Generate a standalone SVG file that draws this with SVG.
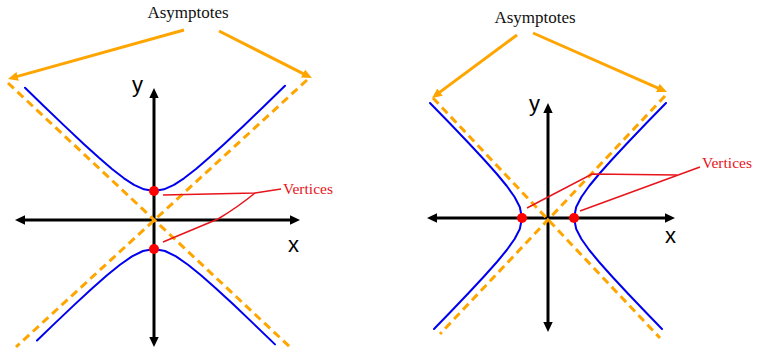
<svg xmlns="http://www.w3.org/2000/svg" width="758" height="350" viewBox="0 0 758 350">
  <defs>
    <style>
      .axis { stroke: #000; stroke-width: 3; fill: none; marker-start: url(#axhead); marker-end: url(#axhead); }
      .asym { stroke: #FFA500; stroke-width: 3; fill: none; stroke-dasharray: 8 5; }
      .curve { stroke: #0000EE; stroke-width: 2; fill: none; stroke-linejoin: round; stroke-linecap: round; }
      .pointer { stroke: #FFA500; stroke-width: 3; fill: none; marker-end: url(#orhead); }
      .lead { stroke: #E8141B; stroke-width: 1.5; fill: none; }
      .vertex { fill: #FF0000; }
      .lbl { font-family: "Liberation Serif", "Times New Roman", serif; font-size: 17px; fill: #111; }
      .vlbl { font-family: "Liberation Serif", "Times New Roman", serif; font-size: 15.5px; fill: #E8141B; }
      .axlbl { font-family: "Liberation Sans", Arial, sans-serif; font-size: 22px; fill: #000; }
    </style>
    <marker id="axhead" viewBox="0 0 10 10" refX="4" refY="5" markerWidth="10" markerHeight="10" markerUnits="userSpaceOnUse" orient="auto-start-reverse">
      <path d="M0,0.3 L10,5 L0,9.7 z" fill="#000"/>
    </marker>
    <marker id="orhead" viewBox="0 0 10 10" refX="4" refY="5" markerWidth="10" markerHeight="10" markerUnits="userSpaceOnUse" orient="auto">
      <path d="M0,0.5 L10,5 L0,9.5 z" fill="#FFA500"/>
    </marker>
  </defs>

  <g id="left-graph">
    <g id="left-axes">
      <line class="axis" x1="21" y1="220" x2="294" y2="220"/>
      <line class="axis" x1="154" y1="341" x2="154" y2="94"/>
      <text class="axlbl" x="288" y="252">x</text>
      <text class="axlbl" x="132" y="92">y</text>
    </g>
    <g id="left-asymptotes">
      <line class="asym" x1="8" y1="83" x2="291" y2="348"/>
      <line class="asym" x1="307" y1="80" x2="16" y2="347"/>
    </g>
    <g id="left-hyperbola">
      <polyline class="curve" points="25,87.8 44,106.2 64,125.4 84,144.2 99,157.8 112,169 124,178.3 134,184.8 144,189.3 154,191 164,189.3 174,184.8 184,178.3 196,169 209,157.8 224,144.2 244,125.4 264,106.2 285,85.8"/>
      <polyline class="curve" points="37,340.5 54,324.1 74,305.1 92,288.4 107,275.2 120,264.7 132,256.4 143,251 154,249 165,251 176,256.4 188,264.7 201,275.2 216,288.4 234,305.1 254,324.1 275,344.4"/>
    </g>
  </g>

  <g id="right-graph">
    <g id="right-axes">
      <line class="axis" x1="433" y1="218" x2="669" y2="218"/>
      <line class="axis" x1="548" y1="326" x2="548" y2="109"/>
      <text class="axlbl" x="665" y="243">x</text>
      <text class="axlbl" x="529" y="111">y</text>
    </g>
    <g id="right-asymptotes">
      <line class="asym" x1="433" y1="98" x2="660" y2="338"/>
      <line class="asym" x1="665" y1="96" x2="440" y2="334"/>
    </g>
    <g id="right-hyperbola">
      <polyline class="curve" points="430,103 449.5,123 468.6,143 484.4,160 496.9,174 506.8,186 514.6,197 519.8,207 522,218 519.8,229 514.6,239 506.8,250 496.9,262 484.4,276 468.6,293 449.5,313 434,329"/>
      <polyline class="curve" points="666,103 646.5,123 627.4,143 611.6,160 599.1,174 589.2,186 581.4,197 576.2,207 574,218 576.2,229 581.4,239 589.2,250 599.1,262 611.6,276 627.4,293 646.5,313 662,329"/>
    </g>
  </g>

  <g id="connectors">
    <line class="pointer" x1="184" y1="30" x2="13.8" y2="77.4"/>
    <line class="pointer" x1="219" y1="31" x2="306.6" y2="75.3"/>
    <line class="pointer" x1="517" y1="35" x2="436.8" y2="94.4"/>
    <line class="pointer" x1="533" y1="33" x2="661.5" y2="89.6"/>
    <path class="lead" d="M163,195 L255,193 L281,189"/>
    <path class="lead" d="M163,242 L218,219 Q238,207 255,193"/>
    <path class="lead" d="M527,208 L592,174 L677,175"/>
    <path class="lead" d="M580,211 L700,167"/>
  </g>

  <g id="vertices">
    <circle class="vertex" cx="154" cy="191" r="5"/>
    <circle class="vertex" cx="154" cy="249" r="5"/>
    <circle class="vertex" cx="522" cy="218" r="5"/>
    <circle class="vertex" cx="574" cy="218" r="5"/>
  </g>

  <g id="labels">
    <text class="lbl" x="188" y="18" text-anchor="middle">Asymptotes</text>
    <text class="lbl" x="535" y="23" text-anchor="middle">Asymptotes</text>
    <text class="vlbl" x="283" y="194">Vertices</text>
    <text class="vlbl" x="702" y="168">Vertices</text>
  </g>
</svg>
